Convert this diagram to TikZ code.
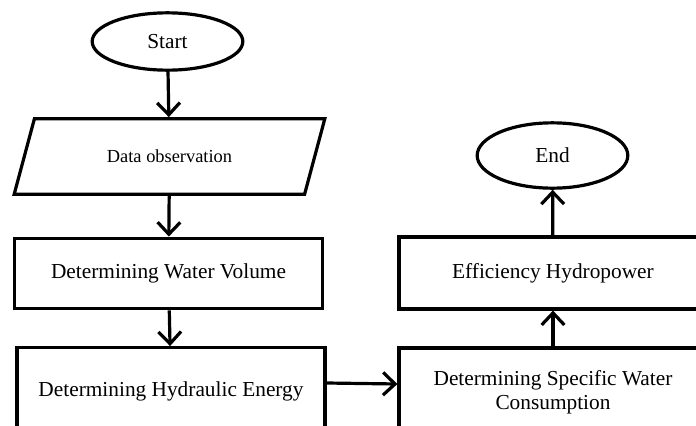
\documentclass[tikz,border=0pt]{standalone}
\usepackage{fontspec}
\setmainfont{Liberation Serif}
\usetikzlibrary{shapes.geometric,arrows.meta}

\begin{document}
\begin{tikzpicture}[
		x=0.75pt, y=-0.75pt,
		every node/.style={draw, line width=2.4pt, inner sep=2pt, align=center,
			font=\fontsize{16}{18}\selectfont},
		term/.style={ellipse, inner sep=0pt, minimum width=113pt},
		io/.style={trapezium, trapezium left angle=75, trapezium right angle=105,
			trapezium stretches body, inner ysep=23.5pt, minimum width=233pt,
			font=\fontsize{13.8}{16}\selectfont},
		box/.style={rectangle, minimum width=231pt},
		arr/.style={line width=2.4pt, -{Straight Barb[length=9pt, width=17pt]}}
	]
  \useasboundingbox (0,0) rectangle (696,425);
  \clip (0,0) rectangle (696,425);
  \node (start) [term, minimum height=43pt] at (167.5, 41.5) {Start};
  \node (data) [io] at (169.5, 156.5) {Data observation};
  \node (vol) [box, minimum height=53pt] at (168.5, 273.5) {Determining Water Volume};
  \node (hyd) [box, minimum height=65pt] at (171, 391) {Determining Hydraulic Energy};
  \node (spec) [box, minimum height=66pt] at (553, 392) {Determining Specific Water\\Consumption};
  \node (eff) [box, minimum height=54pt] at (553, 273) {Efficiency Hydropower};
  \node (end) [term, minimum height=49pt] at (552.5, 155.5) {End};
  \draw[arr] (start) -- (data);
  \draw[arr] (data) -- (vol);
  \draw[arr] (vol) -- (hyd);
  \draw[arr] ([yshift=6pt]hyd.east) -- ([yshift=6pt]spec.west);
  \draw[arr] (spec) -- (eff);
  \draw[arr] (eff) -- (end);
\end{tikzpicture}
\end{document}
